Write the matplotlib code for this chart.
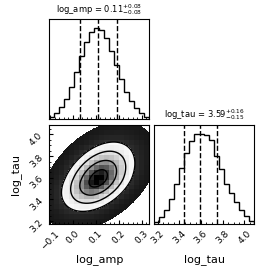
import numpy as np
import matplotlib
matplotlib.use("Agg")
import matplotlib.pyplot as plt
from matplotlib.colors import LinearSegmentedColormap
from matplotlib.ticker import MaxNLocator, AutoMinorLocator

labels = ["log_amp", "log_tau"]
amp_range = (-0.103, 0.333)
tau_range = (3.17, 4.09)

# marginal histograms, 20 bins each
amp_counts = [23, 54, 117, 200, 318, 468, 629, 763, 863, 903,
              890, 806, 679, 538, 395, 271, 177, 110, 54, 20]
tau_counts = [27, 74, 147, 254, 405, 572, 722, 839, 906, 913,
              900, 849, 689, 555, 411, 321, 227, 147, 87, 33]

# 16/50/84 % quantiles
amp_q = [0.03, 0.11, 0.19]
tau_q = [3.44, 3.59, 3.75]
amp_title = (0.11, 0.08, 0.08)
tau_title = (3.59, 0.15, 0.16)

# shape of the joint cloud
amp_mu, amp_sig = 0.11, 0.08
tau_mu, tau_sig_lo, tau_sig_hi = 3.59, 0.15, 0.17
rho = 0.42
outer_r = 3.1
sigma_levels = [0.5, 1.0, 1.5, 2.0]


def qform(x, y):
    u = (x - amp_mu) / amp_sig
    v = np.where(y < tau_mu, (y - tau_mu) / tau_sig_lo, (y - tau_mu) / tau_sig_hi)
    return (u * u - 2 * rho * u * v + v * v) / (1 - rho ** 2)


def style(ax, rng):
    ax.set_xlim(rng)
    ax.xaxis.set_major_locator(MaxNLocator(5))
    ax.xaxis.set_minor_locator(AutoMinorLocator())
    ax.tick_params(which="both", direction="in", top=False, right=False,
                   labelsize=6.5)
    ax.tick_params(which="major", length=3)
    ax.tick_params(which="minor", length=1.5)


def hist1d(ax, counts, rng, q):
    edges = np.linspace(rng[0], rng[1], len(counts) + 1)
    centers = 0.5 * (edges[1:] + edges[:-1])
    ax.hist(centers, bins=edges, weights=counts, histtype="step", color="k", lw=1)
    for v in q:
        ax.axvline(v, ls="--", color="k", lw=1)
    ax.set_ylim(0, 1.1 * max(counts))
    style(ax, rng)
    ax.set_yticks([])


fig = plt.figure(figsize=(2.74, 2.74), dpi=100)
ax_a = fig.add_axes([0.180, 0.566, 0.365, 0.364])
ax_j = fig.add_axes([0.180, 0.181, 0.365, 0.364])
ax_t = fig.add_axes([0.563, 0.181, 0.365, 0.364])

hist1d(ax_a, amp_counts, amp_range, amp_q)
ax_a.set_xticklabels([])
ax_a.set_title(r"log_amp = ${%.2f}_{-%.2f}^{+%.2f}$" % amp_title, fontsize=6, pad=5)

hist1d(ax_t, tau_counts, tau_range, tau_q)
ax_t.set_title(r"log_tau = ${%.2f}_{-%.2f}^{+%.2f}$" % tau_title, fontsize=6, pad=5)
ax_t.tick_params(axis="x", labelrotation=45)
ax_t.set_xlabel(labels[1], fontsize=8)
ax_t.xaxis.set_label_coords(0.5, -0.3)

# joint panel
xf = np.linspace(amp_range[0], amp_range[1], 300)
yf = np.linspace(tau_range[0], tau_range[1], 300)
XF, YF = np.meshgrid(xf, yf)
QF = qform(XF, YF)
ax_j.contourf(XF, YF, QF, levels=[0, outer_r ** 2], colors=["#161616"])
ax_j.contourf(XF, YF, QF, levels=[0, sigma_levels[-1] ** 2], colors=["white"])

xe = np.linspace(amp_range[0], amp_range[1], 21)
ye = np.linspace(tau_range[0], tau_range[1], 21)
XC, YC = np.meshgrid(0.5 * (xe[1:] + xe[:-1]), 0.5 * (ye[1:] + ye[:-1]))
H = np.exp(-0.5 * qform(XC, YC))
dens_cmap = LinearSegmentedColormap.from_list("dens", [(0, 0, 0, 1), (1, 1, 1, 0)])
ax_j.pcolormesh(xe, ye, H.max() - H, cmap=dens_cmap, vmin=0, vmax=H.max())
ax_j.contour(XF, YF, QF, levels=[s ** 2 for s in sigma_levels], colors="k", linewidths=1)

style(ax_j, amp_range)
ax_j.set_ylim(tau_range)
ax_j.yaxis.set_major_locator(MaxNLocator(5))
ax_j.yaxis.set_minor_locator(AutoMinorLocator())
ax_j.tick_params(axis="x", labelrotation=45)
ax_j.tick_params(axis="y", labelrotation=45)
ax_j.set_xlabel(labels[0], fontsize=8)
ax_j.set_ylabel(labels[1], fontsize=8)
ax_j.xaxis.set_label_coords(0.5, -0.3)
ax_j.yaxis.set_label_coords(-0.28, 0.5)

fig.savefig("out.png", dpi=100)
